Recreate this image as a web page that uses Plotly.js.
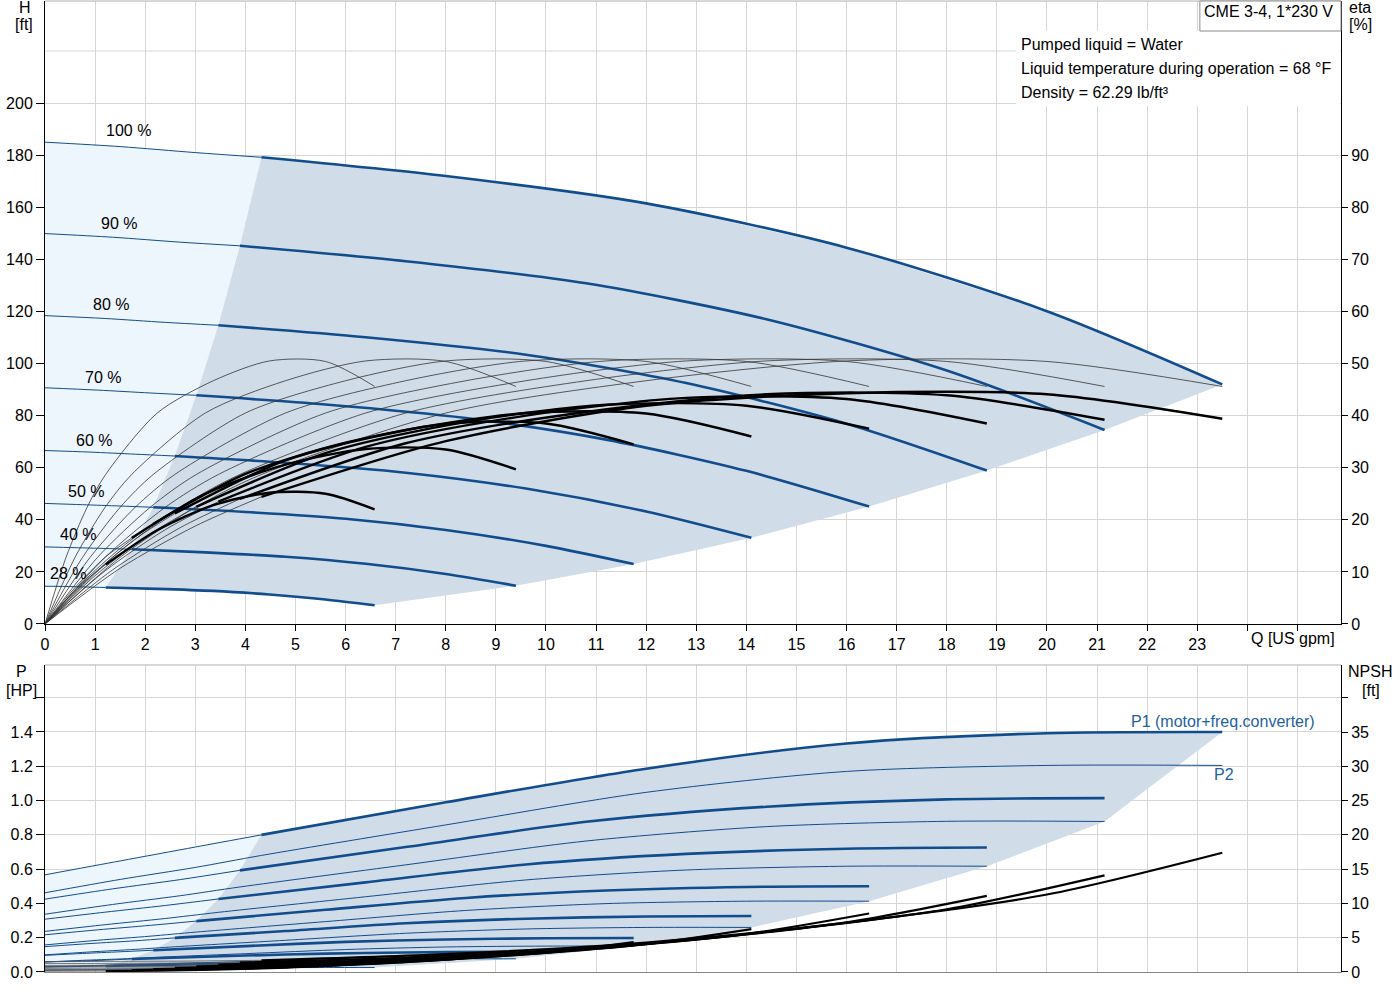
<!DOCTYPE html>
<html>
<head>
<meta charset="utf-8">
<script src="https://cdn.plot.ly/plotly-3.0.1.min.js"></script>
<style>body{margin:0;background:#fff}</style>
</head>
<body>
<div id="chart" style="width:1400px;height:1000px"></div>
<script>
// pump curves, one row per speed
const speedLabels = ['100 %', '90 %', '80 %', '70 %', '60 %', '50 %', '40 %', '28 %'];
const labelQ = [1.66, 1.48, 1.32, 1.16, 0.98, 0.82, 0.66, 0.46];
const labelH = [189.3, 153.9, 122.8, 94.8, 70.6, 50.7, 34.2, 19.2];

// Q [US gpm]; index 3 is the min flow where the curve gets thick
const flowQ = [
    [0, 1.5, 3, 4.32, 8, 12, 16, 20, 23.5],
    [0, 1.35, 2.7, 3.89, 7.2, 10.8, 14.4, 18, 21.15],
    [0, 1.2, 2.4, 3.46, 6.4, 9.6, 12.8, 16, 18.8],
    [0, 1.05, 2.1, 3.02, 5.6, 8.4, 11.2, 14, 16.45],
    [0, 0.9, 1.8, 2.59, 4.8, 7.2, 9.6, 12, 14.1],
    [0, 0.75, 1.5, 2.16, 4, 6, 8, 10, 11.75],
    [0, 0.6, 1.2, 1.73, 3.2, 4.8, 6.4, 8, 9.4],
    [0, 0.42, 0.84, 1.21, 2.24, 3.36, 4.48, 5.6, 6.58]
];

// H [ft]
const headH = [
    [185, 183.3, 181, 179.2, 172, 161.5, 144.5, 120.1, 92],
    [149.9, 148.5, 146.6, 145.2, 139.3, 130.8, 117.0, 97.3, 74.5],
    [118.4, 117.3, 115.8, 114.7, 110.1, 103.4, 92.5, 76.9, 58.9],
    [90.7, 89.8, 88.7, 87.8, 84.3, 79.1, 70.8, 58.8, 45.1],
    [66.6, 66.0, 65.2, 64.5, 61.9, 58.1, 52.0, 43.2, 33.1],
    [46.3, 45.8, 45.3, 44.8, 43.0, 40.4, 36.1, 30.0, 23.0],
    [29.6, 29.3, 29.0, 28.7, 27.5, 25.8, 23.1, 19.2, 14.7],
    [14.5, 14.4, 14.2, 14.0, 13.5, 12.7, 11.3, 9.4, 7.2]
];

// eta pump [%] (thin lines, same shape at every speed)
const etaPump = [0, 12.8, 22.4, 28.7, 40.5, 46.7, 50.5, 50.4, 45.6];

// eta total [%] (thick black lines)
const etaTotal = [
    [0, 10.7, 18.8, 24.4, 35.1, 41.9, 44.3, 44.1, 39.4],
    [0, 10.4, 18.5, 24.0, 34.7, 40.7, 44.1, 43.9, 39.2],
    [0, 10.2, 18.1, 23.5, 34.0, 40.0, 43.4, 43.2, 38.5],
    [0, 9.7, 17.3, 22.5, 32.8, 38.8, 42.1, 41.9, 37.5],
    [0, 9.0, 16.3, 21.2, 31.4, 37.2, 40.5, 40.4, 36.0],
    [0, 8.0, 14.5, 19.2, 28.8, 34.8, 38.4, 38.5, 34.5],
    [0, 7.0, 12.8, 16.5, 25.0, 30.6, 33.6, 33.5, 29.7],
    [0, 4.6, 8.6, 11.4, 18.0, 22.8, 25.2, 25.0, 22.0]
];

// P1 [HP] (motor + freq. converter)
const powerP1 = [
    [0.567, 0.648, 0.729, 0.80, 0.99, 1.186, 1.333, 1.393, 1.40],
    [0.425, 0.485, 0.539, 0.593, 0.729, 0.876, 0.964, 1.007, 1.014],
    [0.308, 0.349, 0.388, 0.426, 0.523, 0.627, 0.689, 0.719, 0.726],
    [0.217, 0.246, 0.272, 0.297, 0.363, 0.432, 0.475, 0.496, 0.50],
    [0.148, 0.166, 0.182, 0.199, 0.239, 0.284, 0.311, 0.324, 0.327],
    [0.097, 0.108, 0.118, 0.127, 0.151, 0.176, 0.19, 0.197, 0.198],
    [0.06, 0.063, 0.069, 0.076, 0.089, 0.102, 0.111, 0.116, 0.118],
    [0.030, 0.031, 0.033, 0.035, 0.041, 0.046, 0.050, 0.053, 0.054]
];

// P2 [HP]
const powerP2 = [
    [0.462, 0.54, 0.61, 0.68, 0.858, 1.048, 1.17, 1.205, 1.205],
    [0.337, 0.394, 0.445, 0.496, 0.625, 0.764, 0.848, 0.879, 0.878],
    [0.237, 0.276, 0.312, 0.348, 0.439, 0.537, 0.595, 0.617, 0.617],
    [0.158, 0.185, 0.209, 0.233, 0.294, 0.359, 0.399, 0.413, 0.413],
    [0.100, 0.117, 0.132, 0.147, 0.185, 0.226, 0.251, 0.260, 0.260],
    [0.058, 0.068, 0.076, 0.085, 0.107, 0.131, 0.146, 0.151, 0.151],
    [0.030, 0.035, 0.039, 0.044, 0.055, 0.067, 0.075, 0.077, 0.077],
    [0.010, 0.012, 0.013, 0.015, 0.019, 0.023, 0.025, 0.026, 0.026]
];

// NPSH [ft]
const npsh = [
    [1.5, 1.55, 1.6, 1.7, 2.6, 4.3, 7.2, 11.3, 17.4],
    [1.22, 1.26, 1.30, 1.38, 2.11, 3.48, 5.83, 9.15, 14.1],
    [0.96, 0.99, 1.02, 1.09, 1.66, 2.75, 4.61, 7.23, 11.1],
    [0.74, 0.76, 0.78, 0.83, 1.27, 2.11, 3.53, 5.54, 8.53],
    [0.54, 0.56, 0.58, 0.61, 0.94, 1.55, 2.59, 4.07, 6.26],
    [0.38, 0.39, 0.40, 0.43, 0.65, 1.08, 1.80, 2.83, 4.35],
    [0.24, 0.25, 0.26, 0.27, 0.42, 0.69, 1.15, 1.81, 2.78],
    [0.12, 0.12, 0.13, 0.13, 0.20, 0.34, 0.56, 0.89, 1.36]
];

const qTicks = [0, 1, 2, 3, 4, 5, 6, 7, 8, 9, 10, 11, 12, 13, 14, 15, 16, 17, 18, 19, 20, 21, 22, 23, 24, 25];
const qTickText = ['0', '1', '2', '3', '4', '5', '6', '7', '8', '9', '10', '11', '12', '13', '14', '15', '16', '17', '18', '19', '20', '21', '22', '23', '', ''];
const hTicks = [0, 20, 40, 60, 80, 100, 120, 140, 160, 180, 200];
const hExtraGrid = 220;
const etaTicks = [0, 10, 20, 30, 40, 50, 60, 70, 80, 90];
const pTicks = [0, 0.2, 0.4, 0.6, 0.8, 1.0, 1.2, 1.4, 1.6];
const pTickText = ['0.0', '0.2', '0.4', '0.6', '0.8', '1.0', '1.2', '1.4', ''];
const npshTicks = [0, 5, 10, 15, 20, 25, 30, 35, 40];
const npshTickText = ['0', '5', '10', '15', '20', '25', '30', '35', ''];

const BLUE = '#114d8c';
const LABEL_BLUE = '#2362a2';
const DARK_FILL = '#d0dce8';
const LIGHT_FILL = '#edf5fd';
const MIN = 3;
const LAST = 8;

function line(x, y, xa, ya, color, width) {
    return {
        x: x, y: y, xaxis: xa, yaxis: ya,
        mode: 'lines', type: 'scatter', hoverinfo: 'skip',
        line: { color: color, width: width, shape: 'spline', smoothing: 0.8 }
    };
}

function area(x, y, xa, ya, color) {
    return {
        x: x, y: y, xaxis: xa, yaxis: ya,
        mode: 'lines', type: 'scatter', hoverinfo: 'skip',
        fill: 'toself', fillcolor: color, line: { width: 0 }
    };
}

// shaded operating areas built from the curve points
function regions(vals, lowVals, xa, ya) {
    let n = flowQ.length;
    let lx = [], ly = [], dx = [], dy = [];
    for (let k = 0; k <= MIN; k++) { lx.push(flowQ[0][k]); ly.push(vals[0][k]); }
    for (let i = 1; i < n; i++) { lx.push(flowQ[i][MIN]); ly.push(vals[i][MIN]); }
    lx.push(flowQ[n - 1][MIN]); ly.push(lowVals[n - 1][MIN]);
    for (let k = MIN - 1; k >= 0; k--) { lx.push(flowQ[n - 1][k]); ly.push(lowVals[n - 1][k]); }

    for (let k = MIN; k <= LAST; k++) { dx.push(flowQ[0][k]); dy.push(vals[0][k]); }
    for (let i = 1; i < n; i++) { dx.push(flowQ[i][LAST]); dy.push(lowVals[i][LAST]); }
    for (let k = LAST - 1; k >= MIN; k--) { dx.push(flowQ[n - 1][k]); dy.push(lowVals[n - 1][k]); }
    for (let i = n - 1; i >= 1; i--) { dx.push(flowQ[i][MIN]); dy.push(vals[i][MIN]); }
    return [area(lx, ly, xa, ya, LIGHT_FILL), area(dx, dy, xa, ya, DARK_FILL)];
}

let data = [];
data = data.concat(regions(headH, headH, 'x', 'y'));
data = data.concat(regions(powerP1, powerP2, 'x2', 'y3'));

for (let i = 0; i < flowQ.length; i++) {
    let q = flowQ[i];
    // eta pump, thin
    data.push(line(q, etaPump, 'x', 'y2', '#333333', 0.8));
    // eta total
    data.push(line(q.slice(0, MIN + 1), etaTotal[i].slice(0, MIN + 1), 'x', 'y2', '#333333', 0.8));
    data.push(line(q.slice(MIN), etaTotal[i].slice(MIN), 'x', 'y2', '#000000', 2.4));
    // head
    data.push(line(q.slice(0, MIN + 1), headH[i].slice(0, MIN + 1), 'x', 'y', BLUE, 1));
    data.push(line(q.slice(MIN), headH[i].slice(MIN), 'x', 'y', BLUE, 2.6));
    // power
    data.push(line(q, powerP2[i], 'x2', 'y3', BLUE, 1));
    data.push(line(q.slice(0, MIN + 1), powerP1[i].slice(0, MIN + 1), 'x2', 'y3', BLUE, 1));
    data.push(line(q.slice(MIN), powerP1[i].slice(MIN), 'x2', 'y3', BLUE, 2.6));
    // npsh
    data.push(line(q.slice(0, MIN + 1), npsh[i].slice(0, MIN + 1), 'x2', 'y4', '#555555', 0.8));
    data.push(line(q.slice(MIN), npsh[i].slice(MIN), 'x2', 'y4', '#000000', 2.2));
}

const FONT = 'Liberation Sans, Arial, sans-serif';
const GRID = '#d6d6d6';

let annotations = [];
for (let i = 0; i < speedLabels.length; i++) {
    annotations.push({
        x: labelQ[i], y: labelH[i], xref: 'x', yref: 'y',
        text: speedLabels[i], showarrow: false, font: { size: 16 }
    });
}
function paperText(text, x, y, color, anchor) {
    annotations.push({
        x: x, y: y, xref: 'paper', yref: 'paper', text: text, showarrow: false,
        xanchor: anchor || 'center', yanchor: 'middle',
        font: { size: 16, color: color || '#000' }
    });
}
paperText('H', -0.0154, 0.9928);
paperText('[ft]', -0.0162, 0.9753);
paperText('eta', 1.0147, 0.9928);
paperText('[%]', 1.0154, 0.9753);
paperText('Q [US gpm]', 0.9629, 0.343);
paperText('P', -0.0178, 0.309);
paperText('[HP]', -0.0178, 0.2904);
paperText('NPSH', 1.0224, 0.309);
paperText('[ft]', 1.0232, 0.2904);
paperText('P1 (motor+freq.converter)', 0.9089, 0.2575, LABEL_BLUE);
paperText('P2', 0.9097, 0.2029, LABEL_BLUE);
paperText('CME 3-4, 1*230 V', 0.9444, 0.9887);

const infoLines = ['Pumped liquid = Water', 'Liquid temperature during operation = 68 °F', 'Density = 62.29 lb/ft³'];
const infoH = [222.6, 213.4, 204.2];
for (let i = 0; i < infoLines.length; i++) {
    annotations.push({
        x: 19.44, y: infoH[i], xref: 'x', yref: 'y', xanchor: 'left',
        text: infoLines[i], showarrow: false, font: { size: 16 }
    });
}

let layout = {
    width: 1400, height: 1000,
    margin: { l: 45, r: 59, t: 1, b: 28 },
    paper_bgcolor: '#ffffff', plot_bgcolor: '#ffffff',
    showlegend: false,
    font: { family: FONT, size: 16, color: '#000' },
    xaxis: {
        anchor: 'y', domain: [0, 1], range: [0, 25.87],
        tickvals: qTicks, ticktext: qTickText,
        showgrid: true, gridcolor: GRID, zeroline: false,
        showline: true, linecolor: '#000', ticks: 'outside', ticklen: 6, tickcolor: '#000'
    },
    yaxis: {
        anchor: 'x', domain: [0.3584, 1], range: [0, 239.2],
        tickvals: hTicks,
        showgrid: true, gridcolor: GRID, zeroline: false,
        showline: true, linecolor: '#000', ticks: 'outside', ticklen: 8, tickcolor: '#000'
    },
    yaxis2: {
        overlaying: 'y', side: 'right', anchor: 'x', range: [0, 119.6],
        tickvals: etaTicks, showgrid: false, zeroline: false,
        showline: true, linecolor: '#000', ticks: 'outside', ticklen: 6, tickcolor: '#000'
    },
    xaxis2: {
        anchor: 'y3', domain: [0, 1], range: [0, 25.87],
        tickvals: qTicks, showticklabels: false,
        showgrid: true, gridcolor: GRID, zeroline: false,
        showline: true, linecolor: '#888', ticks: ''
    },
    yaxis3: {
        anchor: 'x2', domain: [0, 0.3162], range: [0, 1.791],
        tickvals: pTicks, ticktext: pTickText,
        showgrid: true, gridcolor: GRID, zeroline: false,
        showline: true, linecolor: '#000', ticks: 'outside', ticklen: 8, tickcolor: '#000'
    },
    yaxis4: {
        overlaying: 'y3', side: 'right', anchor: 'x2', range: [0, 44.78],
        tickvals: npshTicks, ticktext: npshTickText, showgrid: false, zeroline: false,
        showline: true, linecolor: '#000', ticks: 'outside', ticklen: 6, tickcolor: '#000'
    },
    shapes: [
        { type: 'line', xref: 'paper', yref: 'y', x0: 0, x1: 1, y0: hExtraGrid, y1: hExtraGrid, layer: 'between', line: { color: GRID, width: 1 } },
        { type: 'line', xref: 'paper', yref: 'paper', x0: 0, x1: 1, y0: 1, y1: 1, line: { color: '#b0b0b0', width: 1 } },
        { type: 'line', xref: 'paper', yref: 'paper', x0: 0, x1: 1, y0: 0.3162, y1: 0.3162, line: { color: '#b0b0b0', width: 1 } },
        { type: 'rect', xref: 'x', yref: 'y', x0: 19.38, x1: 25.85, y0: 198.8, y1: 227.8, layer: 'between', fillcolor: '#ffffff', line: { width: 0 } },
        { type: 'rect', xref: 'paper', yref: 'paper', x0: 0.8911, x1: 1.0, y0: 0.9691, y1: 1.0, layer: 'above', fillcolor: '#ffffff', line: { color: '#8a8a8a', width: 1 } }
    ],
    annotations: annotations
};

Plotly.newPlot('chart', data, layout, { staticPlot: true });
</script>
</body>
</html>
